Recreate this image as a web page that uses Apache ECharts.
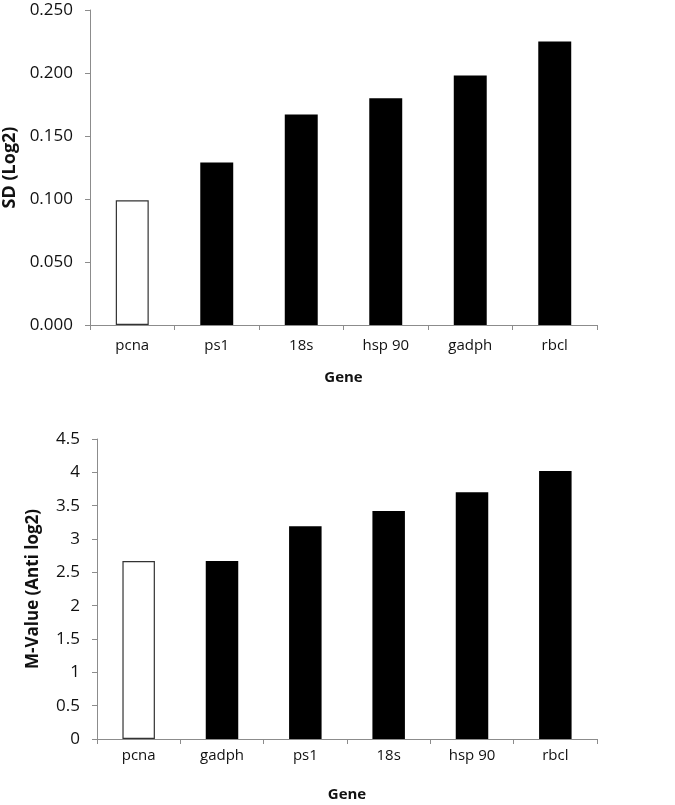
<!DOCTYPE html>
<html>
<head>
<meta charset="utf-8">
<script src="https://cdn.jsdelivr.net/npm/echarts@6/dist/echarts.min.js"></script>
<style>
  html, body { margin: 0; padding: 0; background: #fff; }
  #chart { width: 675px; height: 805px; }
</style>
</head>
<body>
<div id="chart"></div>
<script>
// top panel: SD (Log2)
const sdGenes = ['pcna', 'ps1', '18s', 'hsp 90', 'gadph', 'rbcl']
const sdValues = [0.099, 0.129, 0.167, 0.180, 0.198, 0.225]

// bottom panel: M-value
const mGenes = ['pcna', 'gadph', 'ps1', '18s', 'hsp 90', 'rbcl']
const mValues = [2.67, 2.67, 3.19, 3.42, 3.70, 4.02]

// the reference gene drawn as an open bar
const openGene = 'pcna'

const font = '"Open Sans", "Liberation Sans", sans-serif'
const axisGrey = '#8c8c8c'

function barData(genes, values) {
  return values.map((v, i) => {
    if (genes[i] === openGene) {
      return { value: v, itemStyle: { color: '#fff', borderColor: '#333', borderWidth: 1.2 } }
    }
    return { value: v, itemStyle: { color: '#000' } }
  })
}

function catAxis(gridIndex, genes, labelMargin, nameGap) {
  return {
    type: 'category',
    gridIndex: gridIndex,
    data: genes,
    name: 'Gene',
    nameLocation: 'middle',
    nameGap: nameGap,
    nameTextStyle: { fontFamily: font, fontWeight: 'bold', fontSize: 15, color: '#111' },
    axisLine: { lineStyle: { color: axisGrey, width: 1 } },
    axisTick: { show: true, alignWithLabel: false, length: 5, lineStyle: { color: axisGrey } },
    axisLabel: { fontFamily: font, fontSize: 15, color: '#111', margin: labelMargin }
  }
}

const chart = echarts.init(document.getElementById('chart'))

const option = {
  animation: false,
  backgroundColor: '#fff',
  grid: [
    { left: 90, top: 10, width: 507, height: 315, containLabel: false, outerBoundsMode: 'none' },
    { left: 97, top: 439, width: 500, height: 300, containLabel: false, outerBoundsMode: 'none' }
  ],
  xAxis: [
    catAxis(0, sdGenes, 13, 45),
    catAxis(1, mGenes, 9, 48)
  ],
  yAxis: [
    {
      type: 'value',
      gridIndex: 0,
      min: 0,
      max: 0.25,
      interval: 0.05,
      name: 'SD (Log2)',
      nameLocation: 'middle',
      nameGap: 70,
      nameTextStyle: { fontFamily: font, fontWeight: 'bold', fontSize: 18, color: '#111' },
      axisLine: { show: true, lineStyle: { color: axisGrey } },
      axisTick: { show: true, length: 5, lineStyle: { color: axisGrey } },
      splitLine: { show: false },
      axisLabel: { fontFamily: font, fontSize: 17, color: '#111', margin: 17, formatter: v => v.toFixed(3) }
    },
    {
      type: 'value',
      gridIndex: 1,
      min: 0,
      max: 4.5,
      interval: 0.5,
      name: 'M-Value (Anti log2)',
      nameLocation: 'middle',
      nameGap: 55,
      nameTextStyle: { fontFamily: font, fontWeight: 'bold', fontSize: 17, color: '#111' },
      axisLine: { show: true, lineStyle: { color: axisGrey } },
      axisTick: { show: true, length: 5, lineStyle: { color: axisGrey } },
      splitLine: { show: false },
      axisLabel: { fontFamily: font, fontSize: 17, color: '#111', margin: 17 }
    }
  ],
  series: [
    {
      type: 'bar',
      xAxisIndex: 0,
      yAxisIndex: 0,
      barWidth: '39%',
      data: barData(sdGenes, sdValues)
    },
    {
      type: 'bar',
      xAxisIndex: 1,
      yAxisIndex: 1,
      barWidth: '39%',
      data: barData(mGenes, mValues)
    }
  ]
}

chart.setOption(option)
</script>
</body>
</html>
